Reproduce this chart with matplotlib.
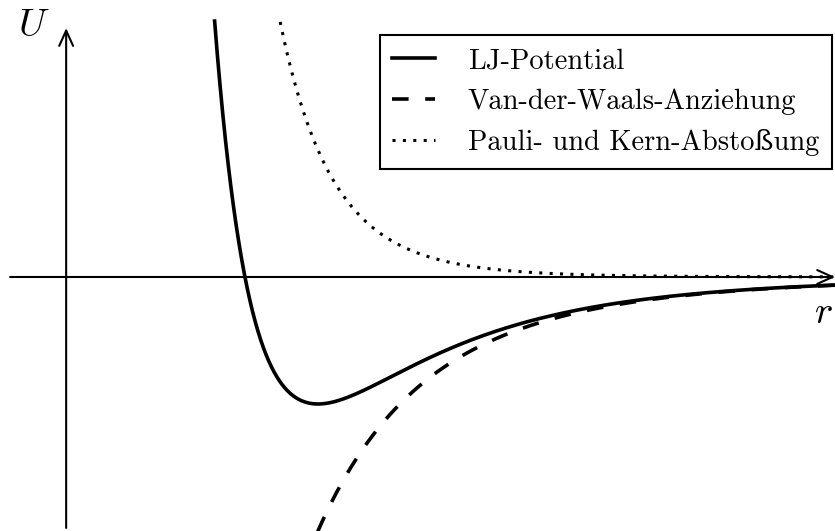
import numpy as np
import matplotlib
matplotlib.use("Agg")
import matplotlib.pyplot as plt

plt.rcParams["mathtext.fontset"] = "cm"

# Lennard-Jones parameters (reduced units)
sigma = 1.0
epsilon = 1.0

labels = ["LJ-Potential", "Van-der-Waals-Anziehung", "Pauli- und Kern-Abstoßung"]
styles = ["-", (0, (4.6, 4.6)), (0, (1, 2.4))]
widths = [2.6, 2.6, 2.2]

r_min, r_max = 0.589, 1.99
u_min, u_max = -2.0, 2.181
u_clip = 2.02

r = np.linspace(0.9, r_max, 1200)
attr = -4 * epsilon * (sigma / r) ** 6
rep = 4 * epsilon * (sigma / r) ** 12
lj = attr + rep

fig = plt.figure(figsize=(8.35, 5.31), dpi=100)
ax = fig.add_axes([0, 0, 1, 1])
ax.set_xlim(r_min, r_max)
ax.set_ylim(u_min, u_max)
ax.axis("off")

for y, ls, w, lab in zip([lj, attr, rep], styles, widths, labels):
    ax.plot(r, np.where(y > u_clip, np.nan, y), color="black", lw=w,
            linestyle=ls, label=lab)

# axes with arrow heads
arrow = dict(arrowstyle="->,head_length=0.55,head_width=0.25", color="black",
             lw=1.5, shrinkA=0, shrinkB=0, mutation_scale=20)
ax.annotate("", xy=(r_max, 0), xytext=(0.606, 0), arrowprops=arrow)
ax.annotate("", xy=(0.70, 1.96), xytext=(0.70, -1.976), arrowprops=arrow)

ax.text(0.646, 1.984, r"$U$", fontsize=28, ha="center", va="center")
ax.text(1.971, -0.276, r"$r$", fontsize=28, ha="center", va="center")

leg = ax.legend(loc="upper right", bbox_to_anchor=(832 / 835, 1 - 35 / 531),
                prop=dict(family=["cmr10", "DejaVu Serif"], size=20.5),
                frameon=True, fancybox=False, framealpha=1, edgecolor="black",
                handlelength=1.5, handletextpad=1.15, borderpad=0.45,
                labelspacing=0.5, borderaxespad=0)
leg.get_frame().set_linewidth(1.5)

fig.savefig("out.png", dpi=100)
